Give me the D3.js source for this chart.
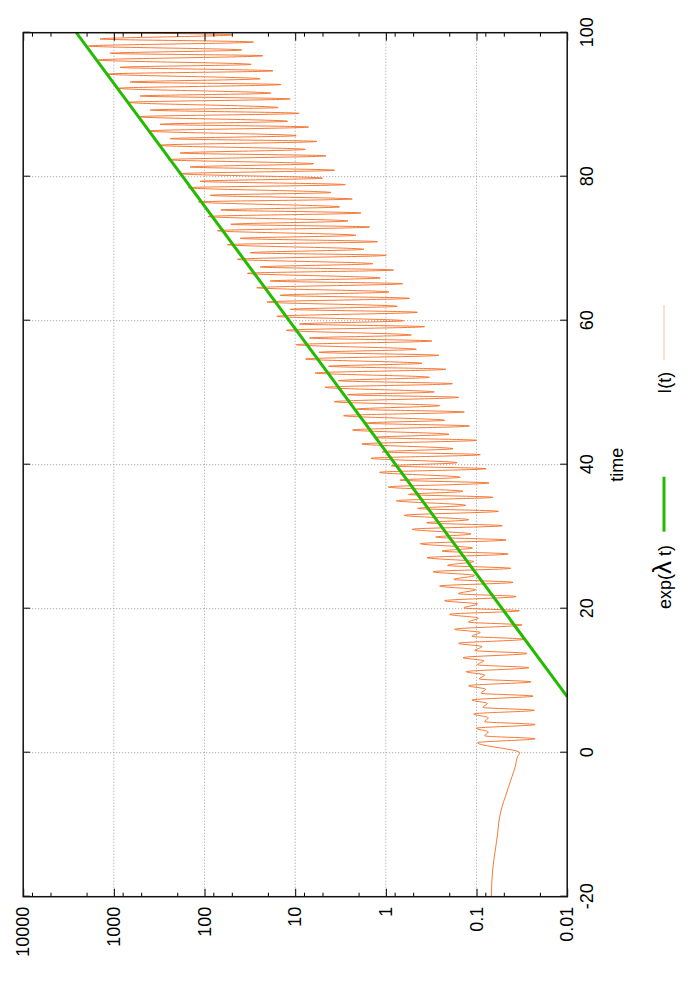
<!DOCTYPE html>
<html>
<head>
<meta charset="utf-8">
<script src="https://cdn.jsdelivr.net/npm/d3@7"></script>
<style>
  body { margin: 0; background: #fff; }
  text { font-family: "Liberation Sans", Arial, Helvetica, sans-serif; }
</style>
</head>
<body>
<script>

// axis ticks
var timeTicks = [-20, 0, 20, 40, 60, 80, 100];
var timeLabels = ["-20", "0", "20", "40", "60", "80", "100"];
var decadeTicks = [0.01, 0.1, 1, 10, 100, 1000, 10000];
var decadeLabels = ["0.01", "0.1", "1", "10", "100", "1000", "10000"];
var minorTicks = [0.02, 0.05, 0.08, 0.2, 0.5, 0.8, 2, 5, 8, 20, 50, 80,
                  200, 500, 800, 2000, 5000, 8000];

// exp(lambda t): straight in log scale, the two ends
var expTimes = [7.78, 100];
var expValues = [0.01, 2594];

// I(t), values given as log10(I)
// slow drift before t = 0
var preTimes = [-20, -15.8, -13.5, -11.2, -9.8, -7.5, -6.1, -4.7, -3.3, -1.9, -0.5, 0];
var preLog10 = [-1.163, -1.182, -1.207, -1.233, -1.244, -1.281, -1.318, -1.354, -1.392, -1.428, -1.454, -1.476];

// big maxima (these touch the green line late on)
var peakATimes = [1.39, 3.39, 5.38, 7.32, 9.31, 11.25, 13.2, 15.19, 17.14, 19.22,
  21.11, 23.15, 25.14, 27.08, 29.03, 31.03, 32.97, 35.0, 36.9, 38.94,
  40.89, 42.88, 44.82, 46.81, 48.75, 50.75, 52.74, 54.68, 56.67, 58.67,
  60.61, 62.6, 64.58, 66.58, 68.53, 70.56, 72.5, 74.47, 76.49, 78.47,
  80.42, 82.36, 84.36, 86.35, 88.33, 90.33, 92.28, 94.26, 96.21, 98.15];
var peakALog10 = [-1.012, -0.998, -0.968, -0.950, -0.913, -0.887, -0.851, -0.802, -0.758, -0.703,
  -0.648, -0.593, -0.520, -0.454, -0.380, -0.291, -0.203, -0.115, -0.026, 0.070,
  0.164, 0.264, 0.367, 0.467, 0.570, 0.672, 0.779, 0.886, 0.989, 1.099,
  1.202, 1.312, 1.423, 1.527, 1.637, 1.747, 1.858, 1.962, 2.067, 2.178,
  2.269, 2.398, 2.509, 2.619, 2.730, 2.840, 2.950, 3.061, 3.171, 3.281];

// deep minima
var deepTimes = [1.94, 3.91, 5.89, 7.86, 9.84, 11.81, 13.79, 15.76, 17.74, 19.71,
  21.69, 23.66, 25.61, 27.6, 29.54, 31.53, 33.53, 35.47, 37.46, 39.44,
  41.39, 43.39, 45.38, 47.32, 49.36, 51.25, 53.25, 55.19, 57.18, 59.17,
  61.17, 63.11, 65.14, 67.04, 69.08, 70.97, 73.01, 74.96, 76.9, 78.9,
  80.9, 82.9, 84.9, 86.9, 88.8, 90.8, 92.8, 94.7, 96.8, 98.7];
var deepLog10 = [-1.646, -1.646, -1.638, -1.624, -1.601, -1.579, -1.557, -1.531, -1.502, -1.472,
  -1.436, -1.403, -1.376, -1.348, -1.326, -1.285, -1.241, -1.182, -1.138, -1.105,
  -1.042, -0.998, -0.924, -0.865, -0.802, -0.733, -0.663, -0.586, -0.509, -0.427,
  -0.347, -0.262, -0.184, -0.085, -0.004, 0.092, 0.180, 0.275, 0.371, 0.448,
  0.566, 0.661, 0.760, 0.853, 0.956, 1.055, 1.158, 1.246, 1.357, 1.460];

// smaller maxima in between
var peakBTimes = [2.34, 4.31, 6.29, 8.26, 10.24, 12.21, 14.19, 16.16, 18.14, 20.11,
  22.09, 24.06, 26.01, 28.0, 29.94, 31.93, 33.93, 35.87, 37.86, 39.84,
  41.79, 43.79, 45.78, 47.72, 49.72, 51.67, 53.67, 55.61, 57.6, 59.54,
  61.58, 63.53, 65.51, 67.46, 69.44, 71.44, 73.39, 75.38, 77.42, 79.36,
  81.35, 83.29, 85.28, 87.28, 89.26, 91.21, 93.15, 95.19, 97.14, 99.13];
var peakBLog10 = [-1.09, -1.09, -1.07, -1.05, -1.03, -1.01, -0.98, -0.95, -0.91, -0.86,
  -0.80, -0.75, -0.68, -0.62, -0.55, -0.45, -0.35, -0.25, -0.155, -0.06,
  0.04, 0.13, 0.23, 0.325, 0.423, 0.525, 0.632, 0.738, 0.842, 0.953,
  1.055, 1.166, 1.276, 1.386, 1.497, 1.607, 1.710, 1.820, 1.938, 2.049,
  2.159, 2.269, 2.380, 2.490, 2.600, 2.711, 2.821, 2.932, 3.042, 3.152];

// shallow minima
var shallowTimes = [2.89, 4.86, 6.84, 8.81, 10.79, 12.76, 14.74, 16.71, 18.69, 20.66,
  22.64, 24.61, 26.56, 28.43, 30.38, 32.36, 34.36, 36.3, 38.25, 40.28,
  42.22, 44.22, 46.17, 48.2, 50.1, 52.14, 54.08, 56.03, 58.01, 60.0,
  62.0, 63.99, 65.93, 67.92, 69.92, 71.86, 73.85, 75.8, 77.8, 79.8,
  81.8, 83.8, 85.7, 87.7, 89.6, 91.6, 93.6, 95.6, 97.6, 99.7];
var shallowLog10 = [-1.13, -1.13, -1.12, -1.10, -1.09, -1.08, -1.06, -1.04, -1.02, -1.01,
  -0.99, -0.98, -0.97, -0.954, -0.939, -0.913, -0.880, -0.851, -0.821, -0.785,
  -0.741, -0.696, -0.648, -0.593, -0.534, -0.482, -0.398, -0.336, -0.280, -0.196,
  -0.126, -0.034, 0.062, 0.143, 0.242, 0.330, 0.418, 0.511, 0.606, 0.699,
  0.798, 0.889, 0.989, 1.085, 1.188, 1.268, 1.386, 1.486, 1.590, 1.699];

// where the curve leaves the top edge
var endTimes = [100];
var endLog10 = [3.1];


var width = 700, height = 1000;

// the plot is a landscape gnuplot page turned a quarter turn,
// so draw it landscape and rotate the group
var plotW = 864, plotH = 544;
var originX = 23.2, originY = 896.7;
var fontSize = 18;

var svg = d3.select("body").append("svg")
    .attr("width", width)
    .attr("height", height)
    .style("background", "#fff");

var g = svg.append("g")
    .attr("transform", "translate(" + originX + "," + originY + ") rotate(-90)");

var x = d3.scaleLinear().domain([-20, 100]).range([0, plotW]);
var y = d3.scaleLog().domain([0.01, 10000]).range([plotH, 0]);

// grid
var grid = g.append("g").attr("class", "grid")
    .attr("stroke", "#999")
    .attr("stroke-width", 1)
    .attr("stroke-dasharray", "1,2");

grid.selectAll(".gx")
    .data(timeTicks.slice(1, -1))
  .enter().append("line")
    .attr("x1", function(d) { return x(d); })
    .attr("x2", function(d) { return x(d); })
    .attr("y1", 0)
    .attr("y2", plotH);

grid.selectAll(".gy")
    .data(decadeTicks.slice(1, -1))
  .enter().append("line")
    .attr("x1", 0)
    .attr("x2", plotW)
    .attr("y1", function(d) { return y(d); })
    .attr("y2", function(d) { return y(d); });

// curves, clipped to the box
g.append("clipPath").attr("id", "clip")
  .append("rect")
    .attr("width", plotW)
    .attr("height", plotH);

var pts = [];
function addPts(ts, vs) {
  ts.forEach(function(t, i) { pts.push({t: t, v: Math.pow(10, vs[i])}); });
}
addPts(preTimes, preLog10);
addPts(peakATimes, peakALog10);
addPts(deepTimes, deepLog10);
addPts(peakBTimes, peakBLog10);
addPts(shallowTimes, shallowLog10);
addPts(endTimes, endLog10);
pts.sort(function(a, b) { return a.t - b.t; });

var line = d3.line()
    .x(function(d) { return x(d.t); })
    .y(function(d) { return y(d.v); })
    .curve(d3.curveMonotoneX);

var curves = g.append("g").attr("clip-path", "url(#clip)");

curves.append("path")
    .datum(pts)
    .attr("fill", "none")
    .attr("stroke", "#f26b21")
    .attr("stroke-width", 0.9)
    .attr("d", line);

var expPts = expTimes.map(function(t, i) { return {t: t, v: expValues[i]}; });
curves.append("path")
    .datum(expPts)
    .attr("fill", "none")
    .attr("stroke", "#22bb00")
    .attr("stroke-width", 3)
    .attr("d", d3.line()
      .x(function(d) { return x(d.t); })
      .y(function(d) { return y(d.v); }));

// axes (ticks point inwards, gnuplot style)
function styleAxis(sel) {
  sel.select(".domain").remove();
  sel.selectAll(".tick line").attr("stroke", "#000").attr("stroke-width", 1);
  sel.selectAll("text")
    .attr("fill", "#000")
    .style("font-family", "'Liberation Sans', Arial, Helvetica, sans-serif")
    .style("font-size", fontSize + "px");
}

g.append("g")
    .attr("transform", "translate(0," + plotH + ")")
    .call(d3.axisBottom(x).tickValues(timeTicks).tickSize(-7).tickPadding(13)
      .tickFormat(function(d, i) { return timeLabels[i]; }))
    .call(styleAxis);

g.append("g")
    .call(d3.axisTop(x).tickValues(timeTicks).tickSize(-7).tickFormat(""))
    .call(styleAxis);

g.append("g")
    .call(d3.axisLeft(y).tickValues(decadeTicks).tickSize(-8).tickPadding(10)
      .tickFormat(function(d, i) { return decadeLabels[i]; }))
    .call(styleAxis);

g.append("g")
    .call(d3.axisLeft(y).tickValues(minorTicks).tickSize(-4).tickFormat(""))
    .call(styleAxis);

g.append("g")
    .attr("transform", "translate(" + plotW + ",0)")
    .call(d3.axisRight(y).tickValues(decadeTicks).tickSize(-8).tickFormat(""))
    .call(styleAxis);

g.append("g")
    .attr("transform", "translate(" + plotW + ",0)")
    .call(d3.axisRight(y).tickValues(minorTicks).tickSize(-4).tickFormat(""))
    .call(styleAxis);

// frame
g.append("rect")
    .attr("width", plotW)
    .attr("height", plotH)
    .attr("fill", "none")
    .attr("stroke", "#111")
    .attr("stroke-width", 1.5);

// axis title
g.append("text")
    .attr("x", x(40))
    .attr("y", plotH + 56)
    .attr("text-anchor", "middle")
    .style("font-size", fontSize + "px")
    .text("time");

// legend
var legY = 647.8;
var leg1 = g.append("text")
    .attr("x", 351.7)
    .attr("y", legY)
    .attr("text-anchor", "end")
    .style("font-size", fontSize + "px");
leg1.append("tspan").text("exp(");
leg1.append("tspan").style("font-size", "26px").text("\u03bb");
leg1.append("tspan").text(" t)");

g.append("line")
    .attr("x1", 365).attr("x2", 420)
    .attr("y1", legY - 7).attr("y2", legY - 7)
    .attr("stroke", "#22bb00")
    .attr("stroke-width", 3);

g.append("text")
    .attr("x", 525)
    .attr("y", legY)
    .attr("text-anchor", "end")
    .style("font-size", fontSize + "px")
    .text("I(t)");

g.append("line")
    .attr("x1", 536.7).attr("x2", 591.7)
    .attr("y1", legY - 7).attr("y2", legY - 7)
    .attr("stroke", "#f26b21")
    .attr("stroke-opacity", 0.45)
    .attr("stroke-width", 1);

</script>
</body>
</html>
